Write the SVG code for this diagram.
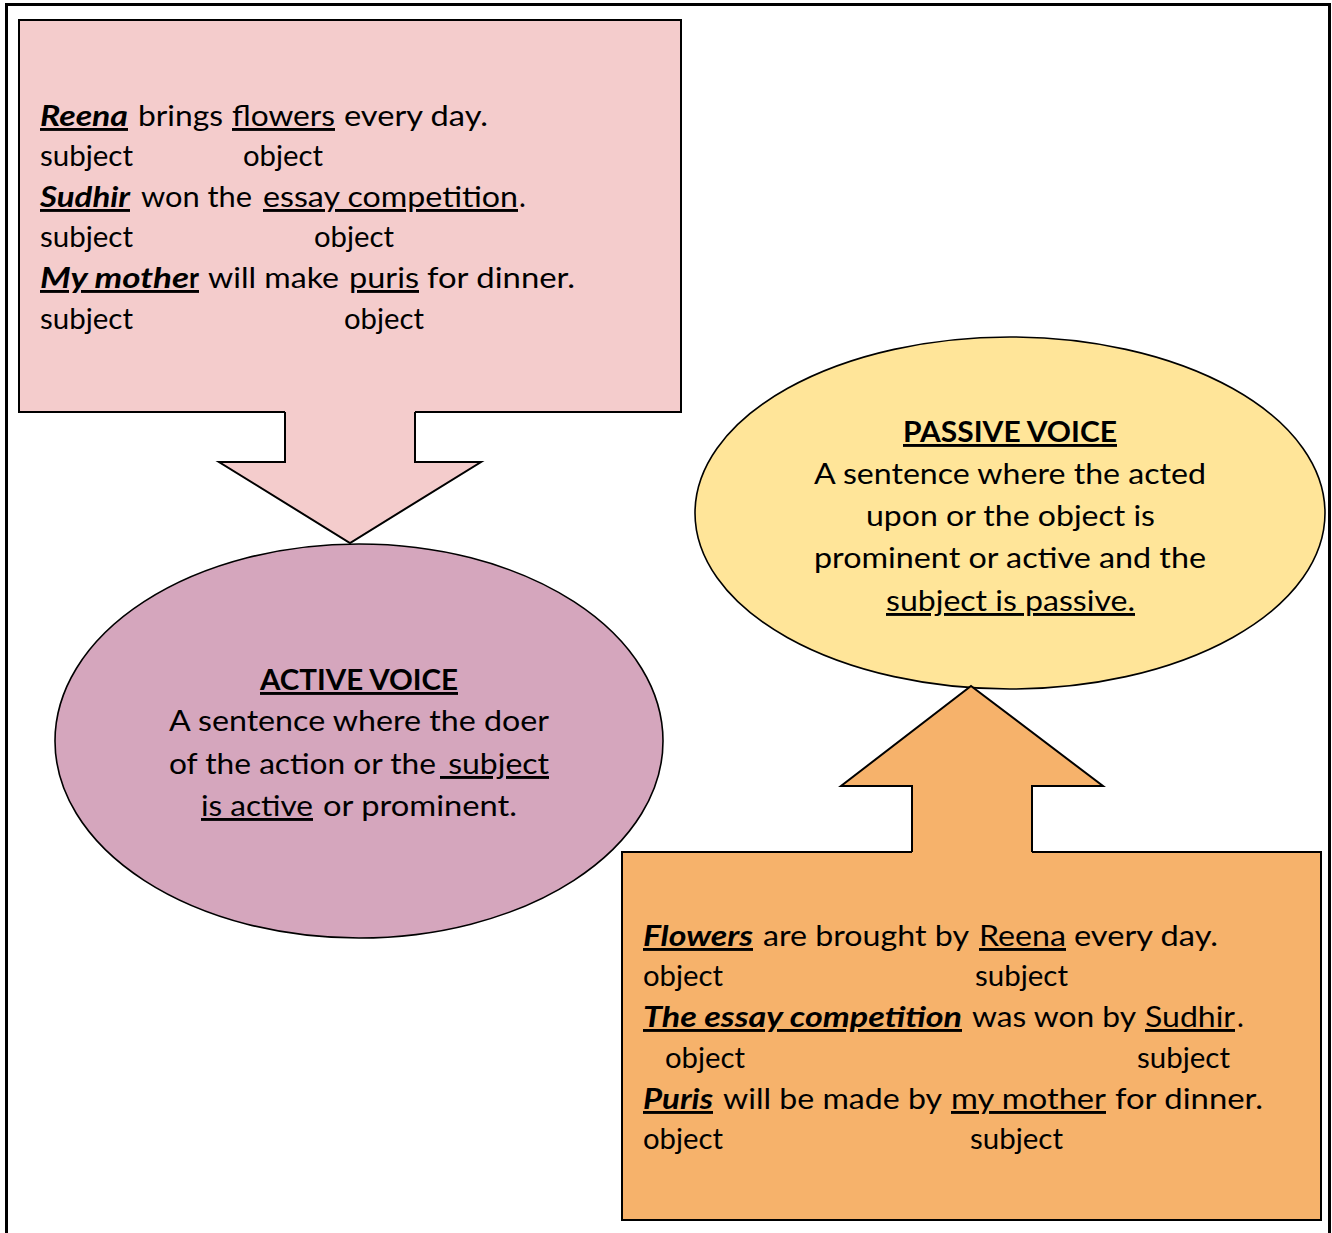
<svg xmlns="http://www.w3.org/2000/svg" width="1332" height="1233" viewBox="0 0 1332 1233">
<style>
.t{font-family:Lato,"Open Sans",sans-serif;font-size:29px;fill:#000}
.bi{font-weight:bold;font-style:italic}
.b{font-weight:bold}
.u{text-decoration:underline;text-decoration-thickness:2px;text-underline-offset:3px}
.ol{fill:none;stroke:#000;stroke-width:2;stroke-linejoin:miter}
</style>
<rect width="1332" height="1233" fill="#fff"/>
<path d="M6.5,1233 V4.5 H1329.5 V1233" fill="none" stroke="#000" stroke-width="3"/>

<g id="active-examples">
<rect x="19" y="20" width="662" height="392" fill="#F4CCCC" stroke="#000" stroke-width="2"/>
<text class="t" y="126"><tspan class="bi u" x="40" textLength="88" lengthAdjust="spacingAndGlyphs">Reena</tspan><tspan x="138" textLength="85" lengthAdjust="spacingAndGlyphs">brings</tspan><tspan class="u" x="232" textLength="103" lengthAdjust="spacingAndGlyphs">flowers</tspan><tspan x="344" textLength="144" lengthAdjust="spacingAndGlyphs">every day.</tspan></text>
<text class="t" y="166"><tspan x="40" textLength="93" lengthAdjust="spacingAndGlyphs">subject</tspan><tspan x="243" textLength="80" lengthAdjust="spacingAndGlyphs">object</tspan></text>
<text class="t" y="207"><tspan class="bi u" x="40" textLength="90" lengthAdjust="spacingAndGlyphs">Sudhir</tspan><tspan x="141" textLength="111" lengthAdjust="spacingAndGlyphs">won the</tspan><tspan class="u" x="263" textLength="255" lengthAdjust="spacingAndGlyphs">essay competition</tspan><tspan x="519">.</tspan></text>
<text class="t" y="247"><tspan x="40" textLength="93" lengthAdjust="spacingAndGlyphs">subject</tspan><tspan x="314" textLength="80" lengthAdjust="spacingAndGlyphs">object</tspan></text>
<text class="t" y="288"><tspan class="bi u" x="40" textLength="149" lengthAdjust="spacingAndGlyphs">My mothe</tspan><tspan class="b u" x="189" textLength="10" lengthAdjust="spacingAndGlyphs">r</tspan><tspan x="208" textLength="131" lengthAdjust="spacingAndGlyphs">will make</tspan><tspan class="u" x="349" textLength="70" lengthAdjust="spacingAndGlyphs">puris</tspan><tspan x="427" textLength="148" lengthAdjust="spacingAndGlyphs">for dinner.</tspan></text>
<text class="t" y="329"><tspan x="40" textLength="93" lengthAdjust="spacingAndGlyphs">subject</tspan><tspan x="344" textLength="80" lengthAdjust="spacingAndGlyphs">object</tspan></text>
</g>

<g id="passive-examples">
<rect x="622" y="852" width="699" height="368" fill="#F6B26B" stroke="#000" stroke-width="2"/>
<text class="t" y="946"><tspan class="bi u" x="643" textLength="110" lengthAdjust="spacingAndGlyphs">Flowers</tspan><tspan x="763" textLength="206" lengthAdjust="spacingAndGlyphs">are brought by</tspan><tspan class="u" x="979" textLength="87" lengthAdjust="spacingAndGlyphs">Reena</tspan><tspan x="1074" textLength="144" lengthAdjust="spacingAndGlyphs">every day.</tspan></text>
<text class="t" y="986"><tspan x="643" textLength="80" lengthAdjust="spacingAndGlyphs">object</tspan><tspan x="975" textLength="93" lengthAdjust="spacingAndGlyphs">subject</tspan></text>
<text class="t" y="1027"><tspan class="bi u" x="643" textLength="319" lengthAdjust="spacingAndGlyphs">The essay competition</tspan><tspan x="972" textLength="164" lengthAdjust="spacingAndGlyphs">was won by</tspan><tspan class="u" x="1145" textLength="90" lengthAdjust="spacingAndGlyphs">Sudhir</tspan><tspan x="1237">.</tspan></text>
<text class="t" y="1068"><tspan x="665" textLength="80" lengthAdjust="spacingAndGlyphs">object</tspan><tspan x="1137" textLength="93" lengthAdjust="spacingAndGlyphs">subject</tspan></text>
<text class="t" y="1109"><tspan class="bi u" x="643" textLength="70" lengthAdjust="spacingAndGlyphs">Puris</tspan><tspan x="723" textLength="219" lengthAdjust="spacingAndGlyphs">will be made by</tspan><tspan class="u" x="951" textLength="155" lengthAdjust="spacingAndGlyphs">my mother</tspan><tspan x="1115" textLength="148" lengthAdjust="spacingAndGlyphs">for dinner.</tspan></text>
<text class="t" y="1149"><tspan x="643" textLength="80" lengthAdjust="spacingAndGlyphs">object</tspan><tspan x="970" textLength="93" lengthAdjust="spacingAndGlyphs">subject</tspan></text>
</g>

<g id="active-voice">
<ellipse cx="359" cy="741" rx="304" ry="197" fill="#D5A6BD" stroke="#000" stroke-width="1.6"/>
<text class="t" y="690"><tspan class="b u" x="260" textLength="198" lengthAdjust="spacingAndGlyphs">ACTIVE VOICE</tspan></text>
<text class="t" y="731"><tspan x="169" textLength="380" lengthAdjust="spacingAndGlyphs">A sentence where the doer</tspan></text>
<text class="t" y="774"><tspan x="169" textLength="267" lengthAdjust="spacingAndGlyphs">of the action or the</tspan><tspan class="u" x="440" textLength="109" lengthAdjust="spacingAndGlyphs"> subject</tspan></text>
<text class="t" y="816"><tspan class="u" x="201" textLength="112" lengthAdjust="spacingAndGlyphs">is active</tspan><tspan x="323" textLength="194" lengthAdjust="spacingAndGlyphs">or prominent.</tspan></text>
</g>

<g id="passive-voice">
<ellipse cx="1010" cy="513" rx="315" ry="176" fill="#FFE599" stroke="#000" stroke-width="1.6"/>
<text class="t" y="442"><tspan class="b u" x="903" textLength="214" lengthAdjust="spacingAndGlyphs">PASSIVE VOICE</tspan></text>
<text class="t" y="484"><tspan x="814" textLength="392" lengthAdjust="spacingAndGlyphs">A sentence where the acted</tspan></text>
<text class="t" y="526"><tspan x="866" textLength="289" lengthAdjust="spacingAndGlyphs">upon or the object is</tspan></text>
<text class="t" y="568"><tspan x="814" textLength="392" lengthAdjust="spacingAndGlyphs">prominent or active and the</tspan></text>
<text class="t" y="611"><tspan class="u" x="886" textLength="249" lengthAdjust="spacingAndGlyphs">subject is passive.</tspan></text>
</g>

<g id="connectors">
<polygon points="285,411 285,462 219,462 350,543 481,462 415,462 415,411" fill="#F4CCCC"/>
<polyline class="ol" points="285,412 285,462 219,462 350,543 481,462 415,462 415,412"/>
<polygon points="912,853 912,786 841,786 971,686 1103,786 1032,786 1032,853" fill="#F6B26B"/>
<polyline class="ol" points="912,852 912,786 841,786 971,686 1103,786 1032,786 1032,852"/>
</g>
</svg>
